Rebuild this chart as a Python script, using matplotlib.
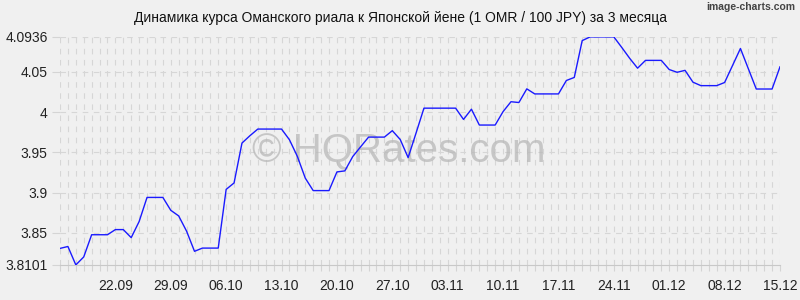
import numpy as np
import pandas as pd
import matplotlib
matplotlib.use('Agg')
import matplotlib.pyplot as plt
import matplotlib.dates as mdates

# данные: курс OMR / 100 JPY, 15.09 - 15.12
dates = pd.date_range('2025-09-15', '2025-12-15', freq='D')
rates = [
    3.8306, 3.8330, 3.8101, 3.8200, 3.8476, 3.8476, 3.8476, 3.8540, 3.8540, 3.8440,
    3.8640, 3.8940, 3.8940, 3.8940, 3.8780, 3.8710, 3.8520, 3.8270, 3.8310, 3.8310,
    3.8310, 3.9040, 3.9120, 3.9616, 3.9707, 3.9790, 3.9790, 3.9790, 3.9790, 3.9657,
    3.9450, 3.9180, 3.9025, 3.9025, 3.9025, 3.9257, 3.9270, 3.9448, 3.9570, 3.9690,
    3.9690, 3.9690, 3.9770, 3.9660, 3.9435, 3.9740, 4.0050, 4.0050, 4.0050, 4.0050,
    4.0050, 3.9910, 4.0037, 3.9840, 3.9840, 3.9840, 4.0007, 4.0130, 4.0120, 4.0290,
    4.0227, 4.0227, 4.0227, 4.0227, 4.0394, 4.0432, 4.0890, 4.0936, 4.0936, 4.0936,
    4.0936, 4.0805, 4.0670, 4.0547, 4.0644, 4.0644, 4.0644, 4.0530, 4.0496, 4.0520,
    4.0373, 4.0330, 4.0330, 4.0330, 4.0369, 4.0580, 4.0792, 4.0540, 4.0288, 4.0288,
    4.0288, 4.0564,
]
y_ticks = [3.8101, 3.85, 3.9, 3.95, 4.0, 4.05, 4.0936]
y_labels = ['3.8101', '3.85', '3.9', '3.95', '4', '4.05', '4.0936']
x_tick_dates = pd.date_range('2025-09-22', '2025-12-15', freq='7D')

bg = '#f0f0f0'
grid_c = '#d6d6d6'

plt.rcParams['font.family'] = ['Liberation Sans', 'DejaVu Sans']

fig = plt.figure(figsize=(8, 3), dpi=100, facecolor=bg)
ax = fig.add_axes([0.075, 0.117, 0.9, 0.76], facecolor=bg)

ax.plot(dates, rates, color='#1a1aff', lw=1.0, zorder=3)

ax.set_xlim(dates[0], dates[-1])
ax.set_ylim(y_ticks[0], y_ticks[-1])

ax.set_yticks(y_ticks)
ax.set_yticklabels(y_labels)
ax.set_xticks(x_tick_dates)
ax.xaxis.set_major_formatter(mdates.DateFormatter('%d.%m'))
ax.xaxis.set_minor_locator(mdates.DayLocator())

ax.tick_params(axis='both', which='both', labelsize=10, colors='#d4d4d4', labelcolor='#222222')
ax.tick_params(axis='x', which='both', length=4, width=0.8, pad=6)
ax.tick_params(axis='y', length=6, width=0.8, pad=3)

# сетка: вертикальные линии каждый день, горизонтальные по делениям
for d in dates:
    ax.axvline(d, color=grid_c, lw=0.8, ls=(0, (5, 5)), zorder=1)
for v in y_ticks[1:]:
    ax.axhline(v, color=grid_c, lw=0.8, ls=(0, (5, 5)), zorder=1)

for s in ['top', 'right']:
    ax.spines[s].set_visible(False)
ax.spines['left'].set_visible(False)
ax.spines['bottom'].set_color('#c8c8c8')

ax.text(0.47, 0.5, '\u00a9 HQRates.com', transform=ax.transAxes, fontsize=29,
        color='#b8b8b8', alpha=0.75, ha='center', va='center', zorder=2)

fig.text(0.5, 0.94, 'Динамика курса Оманского риала к Японской йене (1 OMR / 100 JPY) за 3 месяца',
         ha='center', va='center', fontsize=10, color='#111111')
fig.text(0.994, 0.975, 'image-charts.com', ha='right', va='center', fontsize=7.5,
         color='#444444', fontweight='bold')

fig.savefig('out.png', dpi=100, facecolor=bg)
